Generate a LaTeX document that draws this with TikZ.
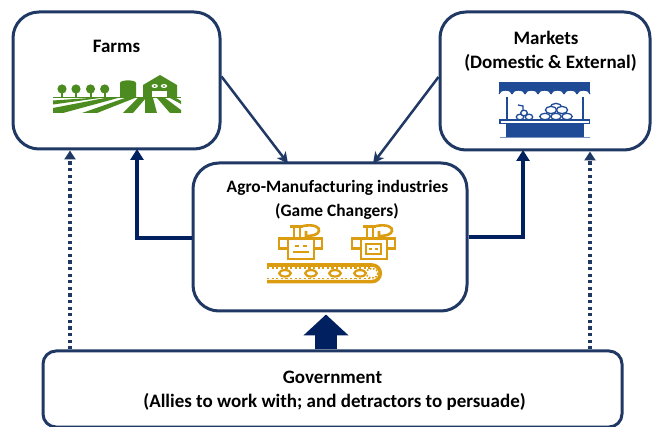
\documentclass[tikz,border=0pt]{standalone}
\usepackage{fontspec}
\setmainfont{Carlito}
\usetikzlibrary{arrows.meta,calc}
\definecolor{boxblue}{HTML}{203864}
\definecolor{darkarrow}{HTML}{002060}
\definecolor{stall}{HTML}{1F4A96}
\definecolor{farmgreen}{HTML}{4B8B1F}
\definecolor{robotgold}{HTML}{DB9C10}
\tikzset{
  stagebox/.style={draw=boxblue,line width=3pt,fill=white,inner sep=0pt,rounded corners=26pt},
  lbl/.style={font=\fontsize{19}{22}\selectfont\bfseries,text=black,inner sep=0pt,anchor=center},
  lblmid/.style={font=\fontsize{17.4}{20}\selectfont\bfseries,text=black,inner sep=0pt,anchor=center},
  thinarrow/.style={draw=boxblue,line width=2.5pt,-{Stealth[length=11pt,width=11pt,inset=3pt]}},
  dotarrow/.style={draw=boxblue,line width=3.2pt,dash pattern=on 3.2pt off 3.4pt,-{Triangle[length=9pt,width=11pt,sep=0pt]}},
  thickarrow/.style={draw=darkarrow,line width=4.4pt,-{Triangle[length=11pt,width=13pt]}},
  gold/.style={draw=robotgold,line width=2.6pt,fill=white,line join=miter},
  goldline/.style={draw=robotgold,line width=2.6pt},
  fruit/.style={draw=stall,line width=1.3pt,fill=white},
}
\begin{document}
\begin{tikzpicture}[x=1pt,y=-1pt]
\useasboundingbox (0,0) rectangle (653,427);
\clip (0,0) rectangle (653,427);
% boxes
\node[stagebox,minimum width=207pt,minimum height=137pt] (farms) at (116.5,80.5) {};
\node[stagebox,minimum width=210pt,minimum height=138pt] (markets) at (545,81) {};
\node[stagebox,minimum width=274pt,minimum height=148pt] (agro) at (330,237) {};
\node[stagebox,rounded corners=13pt,minimum width=579pt,minimum height=76pt] (gov) at (332.5,389) {};
% labels
\node[lbl] (farmsT) at (116.5,46) {Farms};
\node[lbl] (marketsT) at (546,38) {Markets};
\node[lbl] (marketsS) at (550.5,63) {(Domestic \& External)};
\node[lblmid] (agroT) at (337.5,188) {Agro-Manufacturing industries};
\node[lblmid] (agroS) at (337,212) {(Game Changers)};
\node[lbl] (govT) at (332.5,377) {Government};
\node[lbl] (govS) at (334.5,402) {(Allies to work with; and detractors to persuade)};
% connectors
\draw[thinarrow] ([yshift=4pt]farms.east) -- ([xshift=-42pt,yshift=-2pt]agro.north);
\draw[thinarrow] ([yshift=4pt]markets.west) -- ([xshift=43pt,yshift=-2pt]agro.north);
\draw[dotarrow] (gov.north -| 70,0) -- (farms.south -| 70,0);
\draw[dotarrow] (gov.north -| 590,0) -- (markets.south -| 590,0);
\draw[thickarrow] (agro.west |- 0,238) -| ([xshift=20.5pt,yshift=1.5pt]farms.south);
\draw[thickarrow] (agro.east |- 0,237) -| ([xshift=-22pt,yshift=1.5pt]markets.south);
\draw[draw=darkarrow,line width=22pt,-{Triangle[length=21pt,width=44pt]}] (gov.north -| 326,0) -- ([yshift=-2pt]agro.south -| 326,0);
% farm icon
\begin{scope}
\foreach \x in {62,76,90.5,104.7}{
  \fill[farmgreen] (\x,89) circle (4.6);
  \fill[farmgreen] (\x-1,90) rectangle (\x+1,98);
}
\fill[farmgreen] (53,97) rectangle (181,98.2);
\fill[farmgreen] (120,97) -- (120,83) .. controls (120,79.5) and (136,79.5) .. (136,83) -- (136,97) -- cycle;
\fill[farmgreen] (143,97) -- (143,85) -- (160,75) -- (177,85) -- (177,97) -- cycle;
\fill[white] (152,91) rectangle (167,97);
\fill[white] (154.7,86) ellipse (3.2 and 2);
\fill[white] (164,86) ellipse (3.2 and 2);
\fill[farmgreen] (154.7,86) ellipse (1.3 and 0.9);
\fill[farmgreen] (164,86) ellipse (1.3 and 0.9);
\fill[farmgreen] (53,100.5) -- (90,98) -- (100,98) -- (53,104.5) -- cycle;
\fill[farmgreen] (53,108) -- (105,98) -- (118,98) -- (63,113) -- (53,113) -- cycle;
\fill[farmgreen] (82,113) -- (125,98) -- (135,98) -- (97,113) -- cycle;
\fill[farmgreen] (123,113) -- (138,98) -- (146,98) -- (133,113) -- cycle;
\fill[farmgreen] (145,113) -- (145,98) -- (153,98) -- (157,113) -- cycle;
\fill[farmgreen] (170,113) -- (157,98) -- (165,98) -- (181,110) -- (181,113) -- cycle;
\fill[farmgreen] (170,98) -- (176,98) -- (181,101) -- (181,104) -- cycle;
\end{scope}
% market icon
\begin{scope}
\fill[stall] (499,82) rectangle (590,94);
\foreach \x in {505.5,518.5,531.5,544.5,557.5,570.5,583.5}{
  \draw[stall,line width=1pt,fill=white] (\x-6.5,94) arc[start angle=180,end angle=360,x radius=6.5,y radius=3.8];
}
\draw[stall,line width=1.6pt] (507,97) -- (507,120);
\draw[stall,line width=1.6pt] (583,97) -- (583,120);
\draw[stall,line width=1.4pt,fill=white] (500,120) rectangle (589.5,123.5);
\fill[stall] (505.5,124) rectangle (583.5,137);
\draw[stall!60,line width=0.5pt] (500,137) -- (590,137);
\draw[fruit,fill=none] (518,105) -- (523,106) -- (523,113);
\draw[fruit] (520,117) ellipse (3.7 and 2.8);
\draw[fruit] (529,117) ellipse (3.7 and 2.8);
\draw[fruit] (524,113) ellipse (3.3 and 2.8);
\foreach \x/\y in {556/107,551/110,562/110}{\draw[fruit] (\x,\y) ellipse (5.6 and 3.6);}
\foreach \x/\y in {545/116.5,556/116.5,567/116.5}{\draw[fruit] (\x,\y) ellipse (5.2 and 3.2);}
\end{scope}
% robots
\foreach \dx in {0,73}{
\begin{scope}[xshift=\dx pt]
\draw[goldline] (290,226.5) -- (303,226.5);
\draw[goldline] (294,226.5) -- (294,238);
\draw[goldline] (300,226.5) -- (300,238);
\draw[goldline] (303,226) .. controls (314,224) and (320,227) .. (319,231) .. controls (318,235) and (312,236) .. (306,236) -- (306,231);
\draw[gold] (279,238.5) rectangle (322,248.5);
\draw[gold] (288,238.5) rectangle (314,259);
\end{scope}}
\fill[robotgold] (295,245) rectangle (299,247.5);
\fill[robotgold] (303,245) rectangle (307,247.5);
\fill[robotgold] (293,251.5) rectangle (309,253);
\draw[robotgold,line width=1.3pt] (366,244) rectangle (381,254);
\fill[robotgold] (369,248) rectangle (372,250);
\fill[robotgold] (375,248) rectangle (378,250);
% conveyor
\draw[draw=robotgold,line width=3.6pt] (267,265) -- (372,265) arc[start angle=-90,end angle=90,radius=8.3] -- (267,281.6);
\draw[draw=robotgold,line width=1.6pt,dash pattern=on 2.2pt off 2.4pt] (267,268) -- (372,268);
\draw[draw=robotgold,line width=1.6pt,dash pattern=on 2.2pt off 2.4pt] (267,278.6) -- (372,278.6);
\foreach \x in {285,311,335,360}{
  \draw[draw=robotgold,line width=2.2pt,fill=white] (\x,273.3) ellipse (5.8 and 3.2);
}
\draw[draw=robotgold,line width=1.5pt,dash pattern=on 1.6pt off 1.6pt] (372,273.3) ellipse (6 and 4.6);
\end{tikzpicture}
\end{document}
